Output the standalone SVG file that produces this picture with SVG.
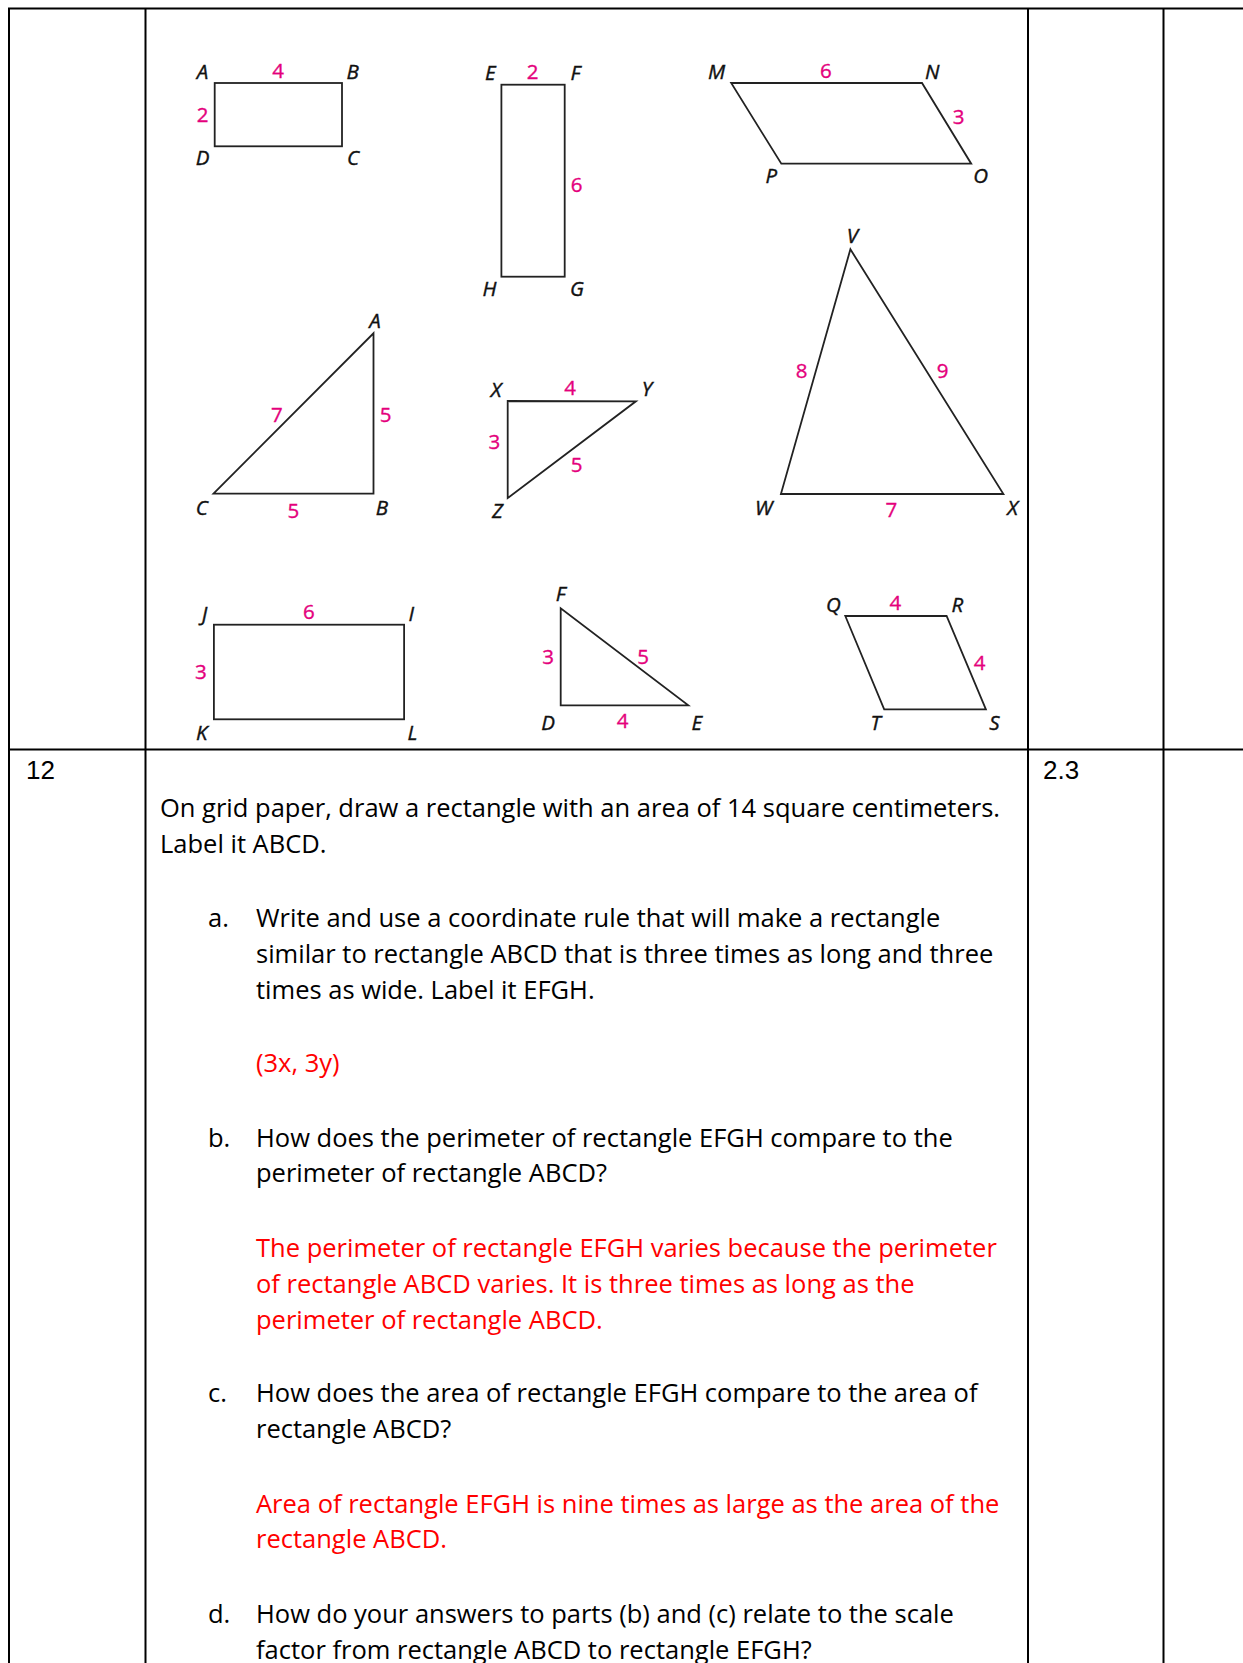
<svg xmlns="http://www.w3.org/2000/svg" width="1243" height="1663" viewBox="0 0 1243 1663">
<style>
.grid{stroke:#000;stroke-width:2;fill:none}
.shape{stroke:#222;stroke-width:1.8;fill:none;stroke-linejoin:miter}
.v{font-family:"Open Sans","Noto Sans",sans-serif;font-style:italic;font-size:20.5px;fill:#111;stroke:#111;stroke-width:0.4;text-anchor:middle}
.n{font-family:"Open Sans","Noto Sans",sans-serif;font-size:20.5px;fill:#e4007c;stroke:#e4007c;stroke-width:0.35;text-anchor:middle}
.t{font-family:"Open Sans","Noto Sans",sans-serif;font-size:25.5px;fill:#000}
.r{font-family:"Open Sans","Noto Sans",sans-serif;font-size:25.5px;fill:#ff0000}
.a{font-family:"Liberation Sans",Arial,sans-serif;font-size:26px;fill:#000}
</style>
<rect width="1243" height="1663" fill="#fff"/>
<g id="table">
<line class="grid" x1="8" y1="8.5" x2="1243" y2="8.5" stroke-width="2.5"/>
<line class="grid" x1="8" y1="749.5" x2="1243" y2="749.5" stroke-width="2.5"/>
<line class="grid" x1="9" y1="8" x2="9" y2="1663"/>
<line class="grid" x1="145.5" y1="8" x2="145.5" y2="1663"/>
<line class="grid" x1="1028" y1="8" x2="1028" y2="1663"/>
<line class="grid" x1="1163.5" y1="8" x2="1163.5" y2="1663"/>
</g>
<g id="rect-ABCD">
<rect class="shape" x="214.7" y="83" width="127.3" height="63.3"/>
<text class="v" x="202.5" y="79">A</text><text class="n" x="278" y="77.5">4</text><text class="v" x="352.7" y="79">B</text>
<text class="n" x="202.5" y="121.5">2</text><text class="v" x="202.5" y="164.5">D</text><text class="v" x="353" y="164.5">C</text>
</g>
<g id="rect-EFGH">
<rect class="shape" x="501.4" y="84.7" width="63.3" height="192"/>
<text class="v" x="490.3" y="80">E</text><text class="n" x="532.6" y="78.5">2</text><text class="v" x="575.3" y="80">F</text>
<text class="n" x="576.5" y="191.8">6</text><text class="v" x="489.5" y="296">H</text><text class="v" x="577" y="296">G</text>
</g>
<g id="para-MNOP">
<polygon class="shape" points="731.2,83 922,83 971.2,163.7 781.3,163.7"/>
<text class="v" x="716.5" y="79">M</text><text class="n" x="825.8" y="77.5">6</text><text class="v" x="932.3" y="79">N</text>
<text class="n" x="958.5" y="124.2">3</text><text class="v" x="771.4" y="183">P</text><text class="v" x="980.7" y="182.5">O</text>
</g>
<g id="tri-VWX">
<polygon class="shape" points="850.4,249.3 780.9,494 1003.4,494"/>
<text class="v" x="852.4" y="242.5">V</text><text class="n" x="801.6" y="378.2">8</text><text class="n" x="942.6" y="378.2">9</text>
<text class="v" x="763.8" y="514.8">W</text><text class="n" x="891.4" y="516.8">7</text><text class="v" x="1012.5" y="514.8">X</text>
</g>
<g id="tri-ABC">
<polygon class="shape" points="373.5,333.3 373.5,493.7 213.5,493.7"/>
<text class="v" x="374.9" y="328">A</text><text class="n" x="276.8" y="421.5">7</text><text class="n" x="385.5" y="421.5">5</text>
<text class="v" x="201.7" y="514.8">C</text><text class="n" x="293.4" y="517.5">5</text><text class="v" x="382" y="514.8">B</text>
</g>
<g id="tri-XYZ">
<polygon class="shape" points="507.7,401 635.9,401.3 507.7,498"/>
<text class="v" x="496.2" y="396.8">X</text><text class="n" x="570.2" y="395.2">4</text><text class="v" x="647" y="395.8">Y</text>
<text class="n" x="494.3" y="448.8">3</text><text class="n" x="576.5" y="472.2">5</text><text class="v" x="497.4" y="517.5">Z</text>
</g>
<g id="rect-JKLI">
<rect class="shape" x="213.9" y="624.7" width="190.2" height="94.6"/>
<text class="v" x="204.4" y="620.8">J</text><text class="n" x="308.8" y="619.2">6</text><text class="v" x="411.2" y="620.8">I</text>
<text class="n" x="200.9" y="679.2">3</text><text class="v" x="201.7" y="740.2">K</text><text class="v" x="412.4" y="740.2">L</text>
</g>
<g id="tri-DEF">
<polygon class="shape" points="560.7,608.3 560.7,705.3 688.3,705.3"/>
<text class="v" x="560.7" y="600.8">F</text><text class="n" x="548" y="664.2">3</text><text class="n" x="643" y="664.2">5</text>
<text class="v" x="548" y="730.2">D</text><text class="n" x="622.6" y="727.5">4</text><text class="v" x="696.7" y="729.5">E</text>
</g>
<g id="para-QRST">
<polygon class="shape" points="845.3,616 946.6,616 985.9,709.3 884.2,709.3"/>
<text class="v" x="833.3" y="611.8">Q</text><text class="n" x="895.3" y="609.8">4</text><text class="v" x="957.3" y="611.8">R</text>
<text class="n" x="979.6" y="669.8">4</text><text class="v" x="875.5" y="730.2">T</text><text class="v" x="994.3" y="730.2">S</text>
</g>
<g id="row-12">
<text class="a" x="26" y="778.5">12</text>
<text class="a" x="1043" y="778.5">2.3</text>
<text class="t" x="160" y="817">On grid paper, draw a rectangle with an area of 14 square centimeters.</text>
<text class="t" x="160" y="852.5">Label it ABCD.</text>
<text class="t" x="208" y="926.5">a.</text>
<text class="t" x="256" y="926.5">Write and use a coordinate rule that will make a rectangle</text>
<text class="t" x="256" y="962.5">similar to rectangle ABCD that is three times as long and three</text>
<text class="t" x="256" y="998.5">times as wide. Label it EFGH.</text>
<text class="r" x="256" y="1072">(3x, 3y)</text>
<text class="t" x="208" y="1146.5">b.</text>
<text class="t" x="256" y="1146.5">How does the perimeter of rectangle EFGH compare to the</text>
<text class="t" x="256" y="1182">perimeter of rectangle ABCD?</text>
<text class="r" x="256" y="1256.5">The perimeter of rectangle EFGH varies because the perimeter</text>
<text class="r" x="256" y="1292.5">of rectangle ABCD varies. It is three times as long as the</text>
<text class="r" x="256" y="1328.5">perimeter of rectangle ABCD.</text>
<text class="t" x="208" y="1401.5">c.</text>
<text class="t" x="256" y="1401.5">How does the area of rectangle EFGH compare to the area of</text>
<text class="t" x="256" y="1438">rectangle ABCD?</text>
<text class="r" x="256" y="1512.5">Area of rectangle EFGH is nine times as large as the area of the</text>
<text class="r" x="256" y="1548">rectangle ABCD.</text>
<text class="t" x="208" y="1622.5">d.</text>
<text class="t" x="256" y="1622.5">How do your answers to parts (b) and (c) relate to the scale</text>
<text class="t" x="256" y="1658.5">factor from rectangle ABCD to rectangle EFGH?</text>
</g>
</svg>
